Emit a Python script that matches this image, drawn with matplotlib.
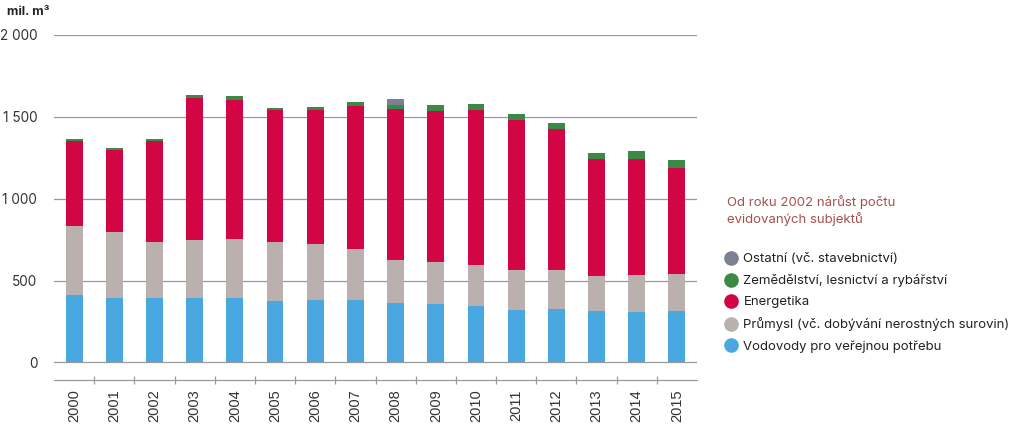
import matplotlib
matplotlib.use("Agg")
import matplotlib.pyplot as plt
from matplotlib.lines import Line2D
import numpy as np

years = [str(y) for y in range(2000, 2016)]
vodovody = [415, 392, 392, 396, 392, 376, 384, 383, 361, 355, 347, 322, 326, 312, 308, 312]
prumysl = [420, 403, 342, 352, 362, 358, 342, 311, 264, 258, 250, 244, 236, 215, 228, 227]
energetika = [515, 504, 620, 866, 852, 809, 813, 875, 922, 922, 947, 914, 861, 713, 708, 650]
zemedelstvi = [14, 10, 12, 22, 20, 12, 20, 21, 23, 39, 34, 37, 41, 41, 47, 49]
ostatni = [0, 0, 0, 0, 0, 0, 0, 0, 41, 0, 0, 0, 0, 0, 0, 0]

labels = ["Vodovody pro veřejnou potřebu",
          "Průmysl (vč. dobývání nerostných surovin)",
          "Energetika",
          "Zemědělství, lesnictví a rybářství",
          "Ostatní (vč. stavebnictví)"]
colors = ["#4AA8E0", "#BAB0AD", "#D20545", "#3A8A45", "#7C8090"]
series = [vodovody, prumysl, energetika, zemedelstvi, ostatni]

yticks = [0, 500, 1000, 1500, 2000]
ytick_labels = ["0", "500", "1 000", "1 500", "2 000"]

plt.rcParams['font.family'] = ['Inter', 'DejaVu Sans']

fig = plt.figure(figsize=(10.24, 4.41), dpi=100)
ax = fig.add_axes([54/1024, 1-379.5/441, (697-54)/1024, (379.5-35)/441])

x = np.arange(len(years))
bottom = np.zeros(len(years))
for vals, col, lab in zip(series, colors, labels):
    ax.bar(x, vals, width=0.42, bottom=bottom, color=col, label=lab, zorder=3)
    bottom += np.array(vals)

ax.set_xlim(-0.5, len(years) - 0.5)
ax.set_ylim(-104, 2000)
ax.set_yticks(yticks)
ax.set_yticklabels(ytick_labels, fontsize=9.8, color="#333333")
ax.tick_params(axis='y', length=0, pad=12)
for yv in yticks:
    ax.axhline(yv, color="#9a9a9a", linewidth=0.9, zorder=1)

ax.set_xticks(np.arange(0.5, len(years) - 1, 1.0))
ax.set_xticklabels([])
ax.tick_params(axis='x', which='major', direction='inout', length=6, width=0.9, color="#9a9a9a")
ax.set_xticks(x, minor=True)
ax.set_xticklabels(years, minor=True, rotation=90, fontsize=10.5, color="#333333",
                   family=['Liberation Sans', 'DejaVu Sans'])
ax.tick_params(axis='x', which='minor', length=0, pad=7)

for s in ['top', 'right', 'left']:
    ax.spines[s].set_visible(False)
ax.spines['bottom'].set_color("#9a9a9a")
ax.spines['bottom'].set_linewidth(0.9)

fig.text(7/1024, 1-12/441, "mil. m³", fontsize=9, fontweight='bold', color="#222222", va='center')

fig.text(727/1024, 1-210.5/441, "Od roku 2002 nárůst počtu\nevidovaných subjektů",
         fontsize=9.5, color="#A5504C", va='center', ha='left', linespacing=1.25)

handles = [Line2D([0], [0], marker='o', linestyle='None', markersize=9.5,
                  markerfacecolor=c, markeredgecolor=c) for c in colors]
order = [4, 3, 2, 1, 0]
leg = fig.legend([handles[i] for i in order], [labels[i] for i in order],
                 loc='upper left', bbox_to_anchor=(723/1024, 1-253/441),
                 frameon=False, fontsize=9.5, handletextpad=0.35, labelspacing=0.68,
                 borderpad=0, borderaxespad=0, handlelength=1.2)
for t in leg.get_texts():
    t.set_color("#222222")

fig.savefig("out.png", dpi=100)
